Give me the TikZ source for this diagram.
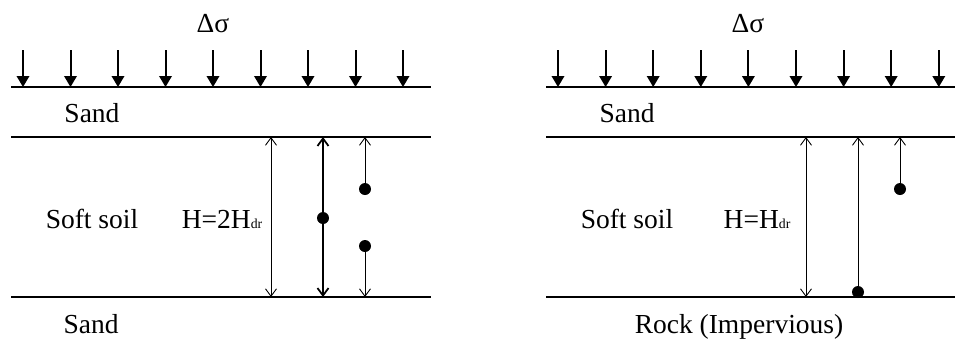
\documentclass[tikz,border=0pt]{standalone}
\usepackage{fontspec}
\setmainfont{Liberation Serif}
\usetikzlibrary{arrows.meta}

\tikzset{
  load/.style={line width=0.8pt,-{Triangle[length=4.4pt,width=5pt]}},
  dimline/.style={line width=0.35pt,{Straight Barb[length=3pt,width=4.4pt]}-{Straight Barb[length=3pt,width=4.4pt]}},
  upline/.style={line width=0.35pt,-{Straight Barb[length=3pt,width=4.4pt]}},
  layer/.style={line width=1.1pt},
  dot/.style={circle,fill=black,inner sep=0pt,minimum size=4.8pt},
  lbl/.style={font=\fontsize{11}{13}\selectfont,anchor=base,inner sep=0pt}
}
\newcommand{\dr}{{\fontsize{5.5}{6}\selectfont dr}}

\begin{document}
\begin{tikzpicture}[x=0.4pt,y=-0.4pt]
        \useasboundingbox (0,0) rectangle (955,343);

        % ---------- left: double drainage ----------
        % the layer boundaries
        \coordinate (LtopW) at (11,87);   \coordinate (LtopE) at (431,87);
        \coordinate (LmidW) at (11,137);  \coordinate (LmidE) at (431,137);
        \coordinate (LbotW) at (11,297);  \coordinate (LbotE) at (431,297);
        \draw[layer] (LtopW) -- (LtopE);
        \draw[layer] (LmidW) -- (LmidE);
        \draw[layer] (LbotW) -- (LbotE);

        % the surcharge
        \node[lbl] (Lload) at (213,32) {Δσ};
        \foreach \i in {0,...,8} {
                \coordinate (La\i) at (23+47.5*\i,50);
                \coordinate (Lb\i) at (23+47.5*\i,87);
                \draw[load] (La\i) -- (Lb\i);
        }

        % the labels
        \node[lbl] (LsandA) at (92,122) {Sand};
        \node[lbl] (Lsoft)  at (92,228) {Soft soil};
        \node[lbl] (LH)     at (222,228) {H=2H\dr};
        \node[lbl] (LsandB) at (91,333) {Sand};

        % the drainage paths
        \coordinate (L1t) at (271,137); \coordinate (L1b) at (271,297);
        \coordinate (L2t) at (323,137); \coordinate (L2b) at (323,297);
        \coordinate (L3t) at (365,137); \coordinate (L3b) at (365,297);
        \node[dot] (Ld2)  at (323,218) {};
        \node[dot] (Ld3a) at (365,189) {};
        \node[dot] (Ld3b) at (365,246) {};
        \draw[dimline] (L1t) -- (L1b);
        \draw[dimline,line width=0.7pt] (L2t) -- (L2b);
        \draw[upline] (Ld3a.center) -- (L3t);
        \draw[upline] (Ld3b.center) -- (L3b);

        % ---------- right: single drainage ----------
        % the layer boundaries
        \coordinate (RtopW) at (546,87);  \coordinate (RtopE) at (955,87);
        \coordinate (RmidW) at (546,137); \coordinate (RmidE) at (955,137);
        \coordinate (RbotW) at (546,297); \coordinate (RbotE) at (955,297);
        \draw[layer] (RtopW) -- (RtopE);
        \draw[layer] (RmidW) -- (RmidE);
        \draw[layer] (RbotW) -- (RbotE);

        % the surcharge
        \node[lbl] (Rload) at (748,32) {Δσ};
        \foreach \i in {0,...,8} {
                \coordinate (Ra\i) at (558+47.6*\i,50);
                \coordinate (Rb\i) at (558+47.6*\i,87);
                \draw[load] (Ra\i) -- (Rb\i);
        }

        % the labels
        \node[lbl] (RsandA) at (627,122) {Sand};
        \node[lbl] (Rsoft)  at (627,228) {Soft soil};
        \node[lbl] (RH)     at (757,228) {H=H\dr};
        \node[lbl] (Rrock)  at (739,333) {Rock (Impervious)};

        % the drainage paths
        \coordinate (R1t) at (806,137); \coordinate (R1b) at (806,297);
        \coordinate (R2t) at (858,137);
        \coordinate (R3t) at (900,137);
        \node[dot] (Rd2) at (858,292) {};
        \node[dot] (Rd3) at (900,189) {};
        \draw[dimline] (R1t) -- (R1b);
        \draw[upline] (Rd2.center) -- (R2t);
        \draw[upline] (Rd3.center) -- (R3t);
\end{tikzpicture}
\end{document}
